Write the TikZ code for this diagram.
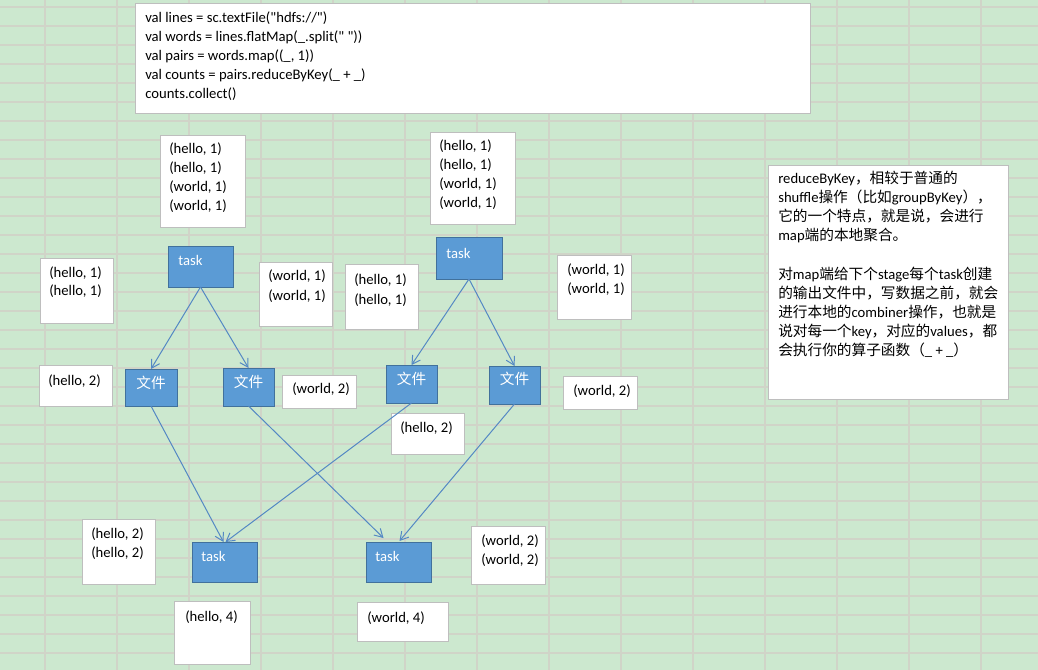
\documentclass[tikz,border=0pt]{standalone}
\usepackage{fontspec}
\setmainfont{Carlito}[Ligatures=TeXOff]
\newfontfamily\cjk{Noto Sans CJK SC}
\usetikzlibrary{arrows.meta,calc}
\definecolor{bg}{RGB}{204,232,207}
\definecolor{gridc}{RGB}{208,212,200}
\definecolor{bord}{RGB}{190,190,190}
\definecolor{bluef}{RGB}{91,155,213}
\definecolor{blueb}{RGB}{65,113,156}
\definecolor{arr}{RGB}{84,136,196}
\newcommand\zh[1]{{\cjk #1}}
\newcommand\bx[6]{\node[#1, anchor=north west, minimum width={(#5-#3)*0.75pt}, minimum height={(#6-#4)*0.75pt}] (#2) at (#3,#4) {};}
\newcommand\putline[4][txt]{\node[#1, anchor=base west] at (#2,#3) {#4};}
\begin{document}
\begin{tikzpicture}[x=0.75pt,y=-0.75pt,
  wbox/.style={draw=bord, fill=white, line width=0.75pt, inner sep=0pt, outer sep=0pt},
  bbox/.style={draw=blueb, fill=bluef, line width=0.75pt, inner sep=0pt, outer sep=0pt},
  txt/.style={inner sep=0pt, font=\fontsize{11pt}{14.25pt}\selectfont, text=black},
  wtxt/.style={txt, text=white},
  ztxt/.style={inner sep=0pt, font=\fontsize{11pt}{14.25pt}\selectfont\cjk, text=white},
  flow/.style={draw=arr, line width=0.75pt, -{Straight Barb[length=6pt,width=7pt]}}]

\fill[bg] (0,0) rectangle (1038,670);
\useasboundingbox (0,0) rectangle (1038,670);
\foreach \i in {0,...,13} \draw[gridc, line width=0.9pt] (45+72*\i,0) -- (45+72*\i,670);
\foreach \j in {0,...,34} \draw[gridc, line width=0.9pt] (0,7+19*\j) -- (1038,7+19*\j);

% code box
\bx{wbox}{code}{135}{4}{810}{114}
\putline{145}{23}{val lines = sc.textFile("hdfs://")}
\putline{145}{42}{val words = lines.flatMap(\_.split(" "))}
\putline{145}{61}{val pairs = words.map((\_, 1))}
\putline{145}{80}{val counts = pairs.reduceByKey(\_ + \_)}
\putline{145}{99}{counts.collect()}

% input data boxes
\bx{wbox}{inA}{160}{136}{245}{228}
\putline{169}{154}{(hello, 1)}
\putline{169}{173}{(hello, 1)}
\putline{169}{192}{(world, 1)}
\putline{169}{211}{(world, 1)}

\bx{wbox}{inB}{430}{133}{515}{225}
\putline{439}{151}{(hello, 1)}
\putline{439}{170}{(hello, 1)}
\putline{439}{189}{(world, 1)}
\putline{439}{208}{(world, 1)}

% tasks of stage 1
\bx{bbox}{t1}{168}{247}{233}{287}
\putline[wtxt]{178}{266}{task}
\bx{bbox}{t2}{436}{238}{502}{279}
\putline[wtxt]{446}{258}{task}

% partition data
\bx{wbox}{h11a}{40}{259}{113}{323}
\putline{49}{277}{(hello, 1)}
\putline{49}{296}{(hello, 1)}
\bx{wbox}{w11a}{259}{263}{332}{326}
\putline{268}{281}{(world, 1)}
\putline{268}{300}{(world, 1)}
\bx{wbox}{h11b}{345}{265}{418}{329}
\putline{354}{285}{(hello, 1)}
\putline{354}{304}{(hello, 1)}
\bx{wbox}{w11b}{557}{256}{631}{319}
\putline{567}{274}{(world, 1)}
\putline{567}{293}{(world, 1)}

% files
\bx{bbox}{fA}{125}{369}{177}{406}
\node[ztxt, anchor=base] at (151,388) {文件};
\bx{bbox}{fB}{223}{368}{274}{406}
\node[ztxt, anchor=base] at (248.5,387) {文件};
\bx{bbox}{fC}{386}{365}{437}{403}
\node[ztxt, anchor=base] at (411.5,384) {文件};
\bx{bbox}{fD}{489}{366}{540}{404}
\node[ztxt, anchor=base] at (514.5,384) {文件};

% combined values
\bx{wbox}{h2a}{39}{365}{112}{406}
\putline{48}{385}{(hello, 2)}
\bx{wbox}{w2a}{282}{375}{356}{408}
\putline{292}{393}{(world, 2)}
\bx{wbox}{h2b}{391}{413}{464}{454}
\putline{400}{432}{(hello, 2)}
\bx{wbox}{w2b}{563}{376}{637}{409}
\putline{573}{395}{(world, 2)}

% stage 2
\bx{wbox}{h22}{82}{519}{155}{584}
\putline{91}{538}{(hello, 2)}
\putline{91}{557}{(hello, 2)}
\bx{bbox}{t3}{192}{542}{257}{582}
\putline[wtxt]{201}{561}{task}
\bx{bbox}{t4}{366}{542}{431}{582}
\putline[wtxt]{375}{561}{task}
\bx{wbox}{w22}{471}{526}{545}{584}
\putline{481}{545}{(world, 2)}
\putline{481}{564}{(world, 2)}
\bx{wbox}{h4}{174}{601}{250}{664}
\putline{185}{621}{(hello, 4)}
\bx{wbox}{w4}{357}{602}{448}{641}
\putline{367}{622}{(world, 4)}

% note box
\bx{wbox}{note}{768}{166}{1008}{399}
\putline{778}{184}{reduceByKey\zh{，相较于普通的}}
\putline{778}{203}{shuffle\zh{操作（比如}groupByKey\zh{），}}
\putline{778}{222}{\zh{它的一个特点，就是说，会进行}}
\putline{778}{241}{map\zh{端的本地聚合。}}
\putline{778}{279}{\zh{对}map\zh{端给下个}stage\zh{每个}task\zh{创建}}
\putline{778}{298}{\zh{的输出文件中，写数据之前，就会}}
\putline{778}{317}{\zh{进行本地的}combiner\zh{操作，也就是}}
\putline{778}{336}{\zh{说对每一个}key\zh{，对应的}values\zh{，都}}
\putline{778}{355}{\zh{会执行你的算子函数（}\_ + \_\zh{）}}

% connectors
\draw[flow] (t1.south) -- (fA.north);
\draw[flow] (t1.south) -- (fB.north);
\draw[flow] (t2.south) -- (fC.north);
\draw[flow] (t2.south) -- (fD.north);
\draw[flow] (fA.south) -- ($(t3.north)+(-1,0)$);
\draw[flow] (fC.south) -- ($(t3.north)+(1,0)$);
\draw[flow] (fB.south) -- ($(t4.north)+(-15,-4)$);
\draw[flow] (fD.south) -- ($(t4.north)+(1,-1)$);
\end{tikzpicture}
\end{document}
